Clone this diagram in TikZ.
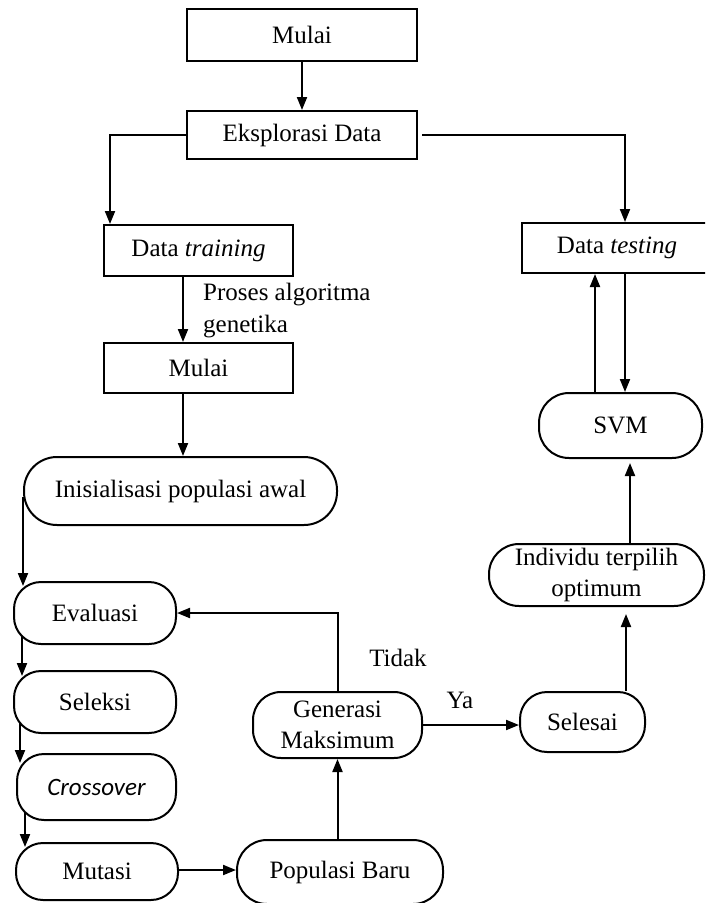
\documentclass[tikz,border=0pt]{standalone}
\usepackage{fontspec}
\setmainfont{Liberation Serif}
\newfontfamily\calib{Carlito}
\usetikzlibrary{arrows.meta,calc,backgrounds}
\tikzset{
  box/.style={draw, line width=2pt, fill=white, inner sep=0pt, align=center,
    font=\fontsize{25}{31}\selectfont},
  rbox/.style={box, rounded corners=#1},
  rbox/.default=27pt,
  arr/.style={line width=2pt, -{Triangle[length=13pt,width=10pt]}},
  lbl/.style={inner sep=0pt, font=\fontsize{25}{32}\selectfont}
}
\begin{document}
\begin{tikzpicture}[x=1pt,y=-1pt]
\useasboundingbox (0,0) rectangle (705,903);
\clip (0,0) rectangle (705,903);

% rectangles
\node[box, minimum width=230pt, minimum height=52pt] (m1) at (302,35) {Mulai};
\node[box, minimum width=230pt, minimum height=48pt] (eks) at (302,135) {Eksplorasi Data};
\node[box, minimum width=189pt, minimum height=51pt] (dtr) at (198.5,250.5) {Data \textit{training}};
\node[box, minimum width=190pt, minimum height=50pt] (dte) at (617,248) {Data \textit{testing}};
\node[box, minimum width=189pt, minimum height=50pt] (m2) at (198.5,368) {Mulai};

% rounded boxes
\node[rbox=33pt, minimum width=313pt, minimum height=68pt] (ini) at (180.5,491) {Inisialisasi populasi awal};
\node[rbox, minimum width=162pt, minimum height=62pt] (eval) at (95,613) {Evaluasi};
\node[rbox, minimum width=162pt, minimum height=62pt] (sel) at (95,702) {Seleksi};
\node[rbox, minimum width=159pt, minimum height=66pt] (cro) at (96.5,787) {{\calib\itshape Crossover}};
\node[rbox, minimum width=162pt, minimum height=57pt] (mut) at (97,871.5) {Mutasi};
\node[rbox=30pt, minimum width=206pt, minimum height=64pt] (pop) at (340,872) {Populasi Baru};
\node[rbox=28pt, minimum width=169pt, minimum height=66pt] (gen) at (337.5,725) {Generasi\\Maksimum};
\node[rbox=27pt, minimum width=125pt, minimum height=60pt] (selesai) at (582.5,722) {Selesai};
\node[rbox=30pt, minimum width=215pt, minimum height=62pt] (ind) at (596.5,575) {Individu terpilih\\optimum};
\node[rbox=30pt, minimum width=163pt, minimum height=65pt] (svm) at (620.5,425.5) {SVM};

% labels
\node[lbl, align=left, anchor=west] (proses) at (203,311) {Proses algoritma\\genetika};
\node[lbl] (tidak) at (398,658) {Tidak};
\node[lbl] (ya) at (460,700) {Ya};

% connector end points
\coordinate (dtrS) at ($(dtr.south)+(-15.5,0)$);
\coordinate (m2N) at ($(m2.north)+(-15.5,0)$);
\coordinate (m2S) at ($(m2.south)+(-15.5,0)$);
\coordinate (selN) at ($(selesai.north)+(43.5,0)$);
\coordinate (indN) at ($(ind.north)+(33.5,0)$);
\coordinate (svmNa) at ($(svm.north)+(-25.5,0)$);
\coordinate (dteSb) at ($(dte.south)+(8,0)$);

% connectors
\draw[arr] (m1) -- (eks);
\draw[arr] (eks.west) -| ($(dtr.north west)+(7,0)$);
\draw[arr] ([xshift=4pt]eks.east) -| ($(dte.north)+(8,0)$);
\draw[arr] (dtrS) -- (m2N);
\draw[arr] (m2S) -- (m2S |- ini.north);

\begin{scope}[on background layer]
\draw[arr] ([yshift=-6pt]ini.west) -- ($(eval.north west)+(10,5)$);
\draw[arr] ($(eval.west)+(9,0)$) -- ($(sel.north west)+(9,6)$);
\draw[arr] ($(sel.west)+(7,0)$) -- ($(cro.north west)+(4,10)$);
\draw[arr] ($(cro.west)+(9,0)$) -- ($(mut.north west)+(10,5)$);
\end{scope}

\draw[arr] ([yshift=1.5pt]mut.east) -- ([yshift=1.5pt]mut.east -| pop.west);
\draw[arr] (gen.south |- pop.north) -- (gen.south);
\draw[arr] (gen.north) |- (eval.east);
\draw[arr] (gen.east) -- (gen.east -| selesai.west);
\draw[arr, shorten >=7pt] (selN) -- (selN |- ind.south);
\draw[arr, shorten >=4pt] (indN) -- (indN |- svm.south);
\draw[arr] (svmNa) -- (svmNa |- dte.south);
\draw[arr] (dteSb) -- (dteSb |- svm.north);
\end{tikzpicture}
\end{document}
